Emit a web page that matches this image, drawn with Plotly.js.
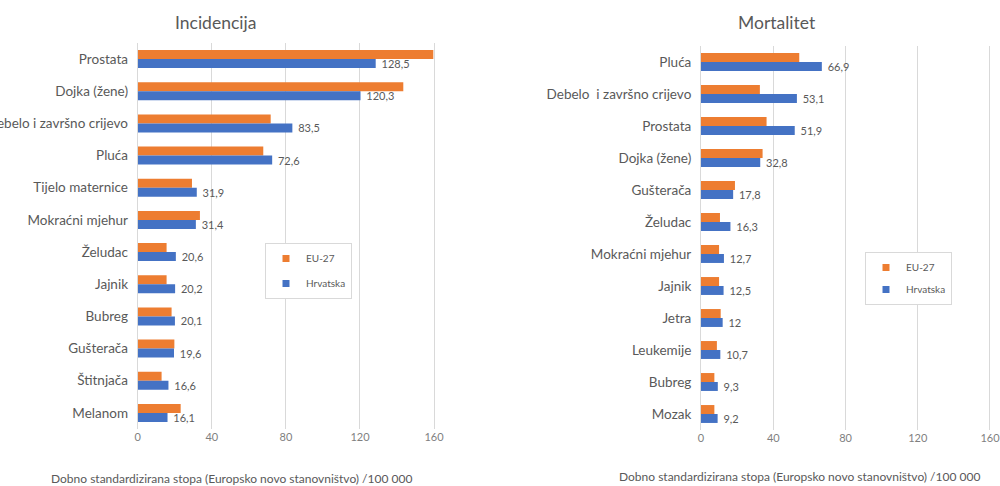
<!DOCTYPE html>
<html>
<head>
<meta charset="utf-8">
<script src="https://cdn.plot.ly/plotly-3.0.1.min.js"></script>
<style>html,body{margin:0;padding:0;background:#fff;}#chart{width:1000px;height:486px;}</style>
</head>
<body>
<div id="chart"></div>
<script>
// Incidencija
const incCategories = ["Prostata", "Dojka (žene)", "Debelo i završno crijevo", "Pluća", "Tijelo maternice", "Mokraćni mjehur", "Želudac", "Jajnik", "Bubreg", "Gušterača", "Štitnjača", "Melanom"];
const incEU = [159.6, 143.4, 71.8, 67.8, 29.3, 33.6, 15.6, 15.6, 18.3, 19.8, 12.9, 23.2];
const incHR = [128.5, 120.3, 83.5, 72.6, 31.9, 31.4, 20.6, 20.2, 20.1, 19.6, 16.6, 16.1];

// Mortalitet
const mortCategories = ["Pluća", "Debelo  i završno crijevo", "Prostata", "Dojka (žene)", "Gušterača", "Želudac", "Mokraćni mjehur", "Jajnik", "Jetra", "Leukemije", "Bubreg", "Mozak"];
const mortEU = [54.4, 32.6, 36.3, 34.1, 18.8, 10.5, 10.0, 10.0, 10.9, 8.8, 7.4, 7.4];
const mortHR = [66.9, 53.1, 51.9, 32.8, 17.8, 16.3, 12.7, 12.5, 12, 10.7, 9.3, 9.2];

const xTicks = [0, 40, 80, 120, 160];
const seriesNames = ["EU-27", "Hrvatska"];
const axisTitle = "Dobno standardizirana stopa (Europsko novo stanovništvo) /100 000";

const ORANGE = "#ED7D31", BLUE = "#4472C4", GRAY = "#595959", FONT = "Lato, 'Open Sans', sans-serif";
const fmt = v => String(v).replace('.', ',');

function barTrace(name, cats, vals, color, xa, ya, withText) {
  const t = {
    type: 'bar', orientation: 'h', name: name, y: cats, x: vals,
    marker: {color: color}, xaxis: xa, yaxis: ya, showlegend: false,
    hoverinfo: 'none', cliponaxis: false, constraintext: 'none'
  };
  if (withText) {
    t.text = vals.map(v => '\u00a0' + fmt(v));
    t.textposition = 'outside';
    t.textfont = {family: FONT, size: 11, color: GRAY};
  }
  return t;
}
// legend-only entries (no data) so the legend symbol can be a small square
function legendEntry(name, color, xa, ya, leg, grp) {
  return {
    type: 'scatter', mode: 'markers', name: name, x: [null], y: [null],
    xaxis: xa, yaxis: ya, legend: leg, legendgroup: grp,
    marker: {symbol: 'square', size: 7, color: color}, hoverinfo: 'none'
  };
}

const data = [
  barTrace(seriesNames[0], incCategories, incEU, ORANGE, 'x', 'y', false),
  barTrace(seriesNames[1], incCategories, incHR, BLUE, 'x', 'y', true),
  barTrace(seriesNames[0], mortCategories, mortEU, ORANGE, 'x2', 'y2', false),
  barTrace(seriesNames[1], mortCategories, mortHR, BLUE, 'x2', 'y2', true),
  legendEntry(seriesNames[0], ORANGE, 'x', 'y', 'legend', 'a'),
  legendEntry(seriesNames[1], BLUE, 'x', 'y', 'legend', 'b'),
  legendEntry(seriesNames[0], ORANGE, 'x2', 'y2', 'legend2', 'a'),
  legendEntry(seriesNames[1], BLUE, 'x2', 'y2', 'legend2', 'b')
];

function xAxis(domain, anchor) {
  return {
    domain: domain, anchor: anchor, range: [0, 161], tickvals: xTicks, ticktext: xTicks.map(String),
    showgrid: true, gridcolor: '#d9d9d9', gridwidth: 1, zeroline: false, showline: false,
    tickfont: {family: FONT, size: 11, color: '#7f7f7f'}, ticks: '', fixedrange: true,
    ticklabeloverflow: 'allow'
  };
}
function yAxis(domain, anchor, n) {
  return {
    domain: domain, anchor: anchor, type: 'category', range: [n - 0.5, -0.5],
    showgrid: false, zeroline: false, showline: true, linecolor: '#d9d9d9', linewidth: 1,
    ticks: '', ticklabelstandoff: 6, tickfont: {family: FONT, size: 13.5, color: GRAY}, fixedrange: true,
    ticklabeloverflow: 'allow'
  };
}

const legendBase = {
  bgcolor: '#fff', bordercolor: '#d9d9d9', borderwidth: 1,
  font: {family: FONT, size: 10, color: GRAY}, traceorder: 'grouped',
  xanchor: 'left', yanchor: 'top', itemclick: false, itemdoubleclick: false, itemwidth: 30
};

const layout = {
  width: 1000, height: 486, margin: {l: 0, r: 0, t: 0, b: 0},
  paper_bgcolor: '#fff', plot_bgcolor: '#fff',
  barmode: 'group', bargap: 0.44, bargroupgap: 0,
  showlegend: true,
  xaxis: xAxis([0.1377, 0.4359], 'y'),
  yaxis: yAxis([1 - 429/486, 1 - 43/486], 'x', incCategories.length),
  xaxis2: xAxis([0.701, 0.9918], 'y2'),
  yaxis2: yAxis([1 - 430/486, 1 - 46/486], 'x2', mortCategories.length),
  legend: Object.assign({}, legendBase, {x: 0.265, y: 1 - 243/486, tracegroupgap: 6}),
  legend2: Object.assign({}, legendBase, {x: 0.865, y: 1 - 252/486, tracegroupgap: 3}),
  annotations: [
    {text: 'Incidencija', xref: 'paper', yref: 'paper', x: 215/1000, y: 1 - 23/486, showarrow: false,
     xanchor: 'center', yanchor: 'middle', font: {family: FONT, size: 17.5, color: GRAY}},
    {text: 'Mortalitet', xref: 'paper', yref: 'paper', x: 777/1000, y: 1 - 22/486, showarrow: false,
     xanchor: 'center', yanchor: 'middle', font: {family: FONT, size: 17.5, color: GRAY}},
    {text: axisTitle, xref: 'paper', yref: 'paper', x: 231/1000, y: 1 - 478/486, showarrow: false,
     xanchor: 'center', yanchor: 'middle', font: {family: FONT, size: 12, color: GRAY}},
    {text: axisTitle, xref: 'paper', yref: 'paper', x: 799/1000, y: 1 - 476/486, showarrow: false,
     xanchor: 'center', yanchor: 'middle', font: {family: FONT, size: 12, color: GRAY}}
  ]
};

Plotly.newPlot('chart', data, layout, {displayModeBar: false, staticPlot: true});
</script>
</body>
</html>
